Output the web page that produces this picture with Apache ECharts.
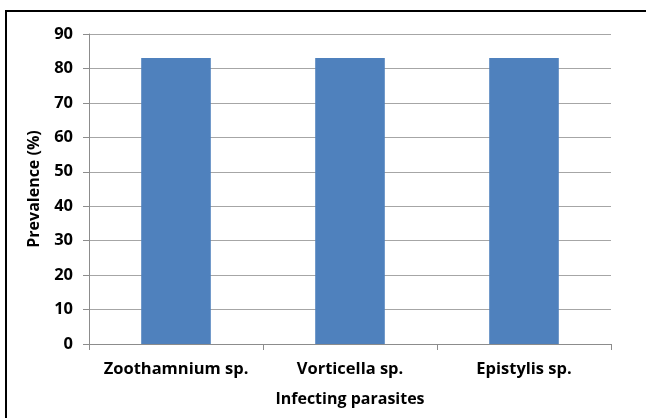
<!DOCTYPE html>
<html>
<head>
<meta charset="utf-8">
<script src="https://cdn.jsdelivr.net/npm/echarts@6/dist/echarts.min.js"></script>
<style>
  html, body { margin: 0; padding: 0; background: #fff; }
  #chart { width: 646px; height: 418px; }
</style>
</head>
<body>
<div id="chart"></div>
<script>
var categories = ['Zoothamnium sp.', 'Vorticella sp.', 'Epistylis sp.'];
var prevalence = [83, 83, 83];
var yTicks = [0, 10, 20, 30, 40, 50, 60, 70, 80, 90];

var myChart = echarts.init(document.getElementById('chart'));
var font = 'Open Sans';
var option = {
  animation: false,
  graphic: [{
    type: 'rect',
    shape: { x: 6, y: 11, width: 660, height: 430 },
    style: { fill: 'none', stroke: '#000', lineWidth: 2 }
  }],
  grid: { left: 89, right: 35, top: 34, bottom: 74 },
  xAxis: {
    type: 'category',
    data: categories,
    name: 'Infecting parasites',
    nameLocation: 'middle',
    nameGap: 47,
    nameTextStyle: { fontFamily: font, fontWeight: 'bold', fontSize: 16, color: '#000' },
    axisLine: { lineStyle: { color: '#8c8c8c', width: 1 } },
    axisTick: { show: true, length: 6, lineStyle: { color: '#8c8c8c' } },
    axisLabel: {
      interval: 0, hideOverlap: false,
      fontFamily: font, fontWeight: 'bold', fontSize: 16.5, color: '#000', margin: 17
    }
  },
  yAxis: {
    type: 'value',
    min: yTicks[0],
    max: yTicks[yTicks.length - 1],
    interval: 10,
    name: 'Prevalence (%)',
    nameLocation: 'middle',
    nameGap: 47,
    nameTextStyle: { fontFamily: font, fontWeight: 'bold', fontSize: 16, color: '#000' },
    axisLine: { show: true, lineStyle: { color: '#8c8c8c', width: 1 } },
    axisTick: { show: true, length: 6, inside: false, lineStyle: { color: '#8c8c8c' } },
    axisLabel: { fontFamily: font, fontWeight: 'bold', fontSize: 16.5, color: '#000', margin: 16 },
    splitLine: { lineStyle: { color: '#a6a6a6', width: 1 } }
  },
  series: [{
    type: 'bar',
    data: prevalence,
    barWidth: '40%',
    itemStyle: { color: '#4f81bd' }
  }]
};
option && myChart.setOption(option);
</script>
</body>
</html>
